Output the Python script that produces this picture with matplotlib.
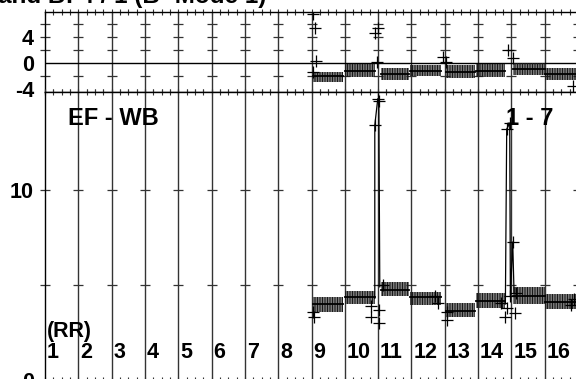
import matplotlib
matplotlib.use("Agg")
import matplotlib.pyplot as plt
import numpy as np

plt.rcParams['font.family'] = ['Liberation Sans', 'DejaVu Sans']
plt.rcParams['hatch.linewidth'] = 0.9

# ---- data ----
title_text = "and B: 4 / 1 (B- Mode 1)"
col_labels = [str(i) for i in range(1, 17)]
seg_start = [9.05, 10.0, 11.1, 11.95, 13.05, 13.95, 15.05, 16.0]
seg_end = [9.95, 10.9, 11.92, 12.9, 13.9, 14.8, 16.0, 16.95]

top_low = [-2.95, -2.2, -2.65, -2.05, -2.35, -2.2, -1.9, -2.65]
top_high = [-1.35, -0.25, -0.75, -0.4, -0.4, -0.25, 0.05, -0.75]
top_mean = [-2.1, -1.2, -1.7, -1.2, -1.4, -1.2, -0.9, -1.7]

bot_low = [3.60, 4.02, 4.44, 3.92, 3.29, 3.81, 4.02, 3.71]
bot_high = [4.35, 4.66, 5.13, 4.61, 4.03, 4.56, 4.87, 4.50]
bot_mean = [4.00, 4.34, 4.76, 4.34, 3.63, 4.16, 4.42, 4.10]

top_out_x = [9.04, 9.10, 9.13, 9.04, 10.90, 11.00, 10.96, 12.94, 13.03, 14.89, 15.04, 16.85]
top_out_y = [7.5, 5.4, 0.3, -1.4, 4.6, 5.4, 0.15, 0.9, 0.15, 2.0, 0.8, -3.6]

bot_out_x = [9.04, 9.07, 10.80, 10.80, 11.02, 11.02, 11.14, 12.70, 12.80, 13.06, 13.06,
             14.70, 14.80, 14.86, 15.13, 15.10, 16.80, 16.88]
bot_out_y = [3.58, 3.30, 3.90, 3.30, 3.70, 3.00, 5.00, 4.40, 4.05, 3.60, 3.15,
             4.05, 3.30, 3.80, 4.60, 3.50, 3.95, 4.26]

spike1_x = [10.90, 10.90, 10.99, 11.02, 11.05]
spike1_y = [4.30, 13.40, 14.80, 14.70, 4.90]
spike2_x = [14.82, 14.86, 14.95, 14.97, 15.04, 15.08]
spike2_y = [4.00, 13.20, 13.50, 4.40, 7.26, 4.60]

top_dash_levels = [-2, 2, 4, 6]
bot_dash_levels = [5, 10]

# ---- figure ----
W, H = 576, 379
fig = plt.figure(figsize=(5.76, 3.79), dpi=100)

def fr(x0, y0, x1, y1):
    return [x0 / W, 1 - y1 / H, (x1 - x0) / W, (y1 - y0) / H]

ax1 = fig.add_axes(fr(45, 12, 578, 92))
ax2 = fig.add_axes(fr(45, 92, 578, 380))

grid_x = np.arange(1, 18)
for ax in (ax1, ax2):
    ax.set_xlim(1, 17)
    for s in ax.spines.values():
        s.set_color('black')
        s.set_linewidth(1.0)
    for gx in grid_x[1:]:
        ax.axvline(gx, color='#333333', lw=1.0, zorder=1)
    ax.set_xticks(grid_x)
    ax.set_xticks(np.arange(1, 17.01, 0.25), minor=True)
    ax.tick_params(axis='x', which='both', direction='inout', top=True, bottom=True,
                   labelbottom=False, length=5, width=0.8, color='#333333')
    ax.tick_params(axis='y', which='both', length=0, pad=8)

ax1.set_ylim(-4.5, 7.85)
ax2.set_ylim(0, 15.15)
ax1.axhline(0, color='black', lw=1.0, zorder=2)

ax1.set_yticks([-4, 0, 4])
ax1.set_yticklabels(['-4', '0', '4'], fontsize=15.5, fontweight='bold')
ax2.set_yticks([0, 10])
ax2.set_yticklabels(['0', '10'], fontsize=15.5, fontweight='bold')

# tick dashes on grid lines
for lv in top_dash_levels:
    ax1.plot(grid_x, [lv] * len(grid_x), ls='none', marker='_', ms=7, mew=0.9,
             color='#333333', zorder=2, clip_on=False)
for lv in bot_dash_levels:
    ax2.plot(grid_x, [lv] * len(grid_x), ls='none', marker='_', ms=7, mew=0.9,
             color='#333333', zorder=2, clip_on=False)

# bands
hatch = '|' * 10
for i in range(len(seg_start)):
    xs = [seg_start[i], seg_end[i]]
    ax1.fill_between(xs, [top_low[i]] * 2, [top_high[i]] * 2, facecolor='none',
                     edgecolor='#1a1a1a', hatch=hatch, linewidth=0, zorder=3)
    ax1.plot(xs, [top_mean[i]] * 2, color='black', lw=1.3, zorder=4)
    ax2.fill_between(xs, [bot_low[i]] * 2, [bot_high[i]] * 2, facecolor='none',
                     edgecolor='#1a1a1a', hatch=hatch, linewidth=0, zorder=3)
    ax2.plot(xs, [bot_mean[i]] * 2, color='black', lw=1.3, zorder=4)

ax1.plot(top_out_x, top_out_y, ls='none', marker='+', ms=8, mew=0.9, color='black', zorder=5)
ax2.plot(bot_out_x, bot_out_y, ls='none', marker='+', ms=8, mew=0.9, color='black', zorder=5)
ax2.plot(spike1_x, spike1_y, color='black', lw=0.9, zorder=5)
ax2.plot(spike1_x[1:4], spike1_y[1:4], ls='none', marker='+', ms=8, mew=0.9, color='black', zorder=5)
ax2.plot(spike2_x, spike2_y, color='black', lw=0.9, zorder=5)
ax2.plot(spike2_x[1:5], spike2_y[1:5], ls='none', marker='+', ms=8, mew=0.9, color='black', zorder=5)

# texts
for i, lab in enumerate(col_labels):
    ax2.text(i + 1 + 0.06, 1.16, lab, fontsize=15.5, fontweight='bold', ha='left',
             va='baseline', zorder=6)
ax2.text(1.06, 2.25, "(RR)", fontsize=15.5, fontweight='bold', ha='left', va='baseline', zorder=6)
ax2.text(1.69, 13.42, "EF - WB", fontsize=17, fontweight='bold', ha='left', va='baseline', zorder=6)
ax2.text(14.85, 13.42, "1 - 7", fontsize=17, fontweight='bold', ha='left', va='baseline', zorder=6)

fig.text(-0.004, 1 - 3 / H, title_text, fontsize=17.5, fontweight='bold', ha='left', va='baseline')

fig.savefig("out.png", dpi=100)
